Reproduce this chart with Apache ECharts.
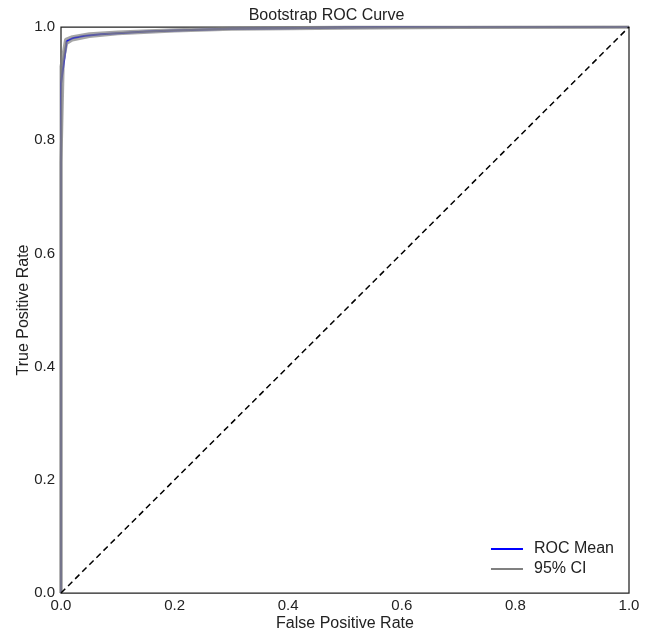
<!DOCTYPE html>
<html>
<head>
<meta charset="utf-8">
<script src="https://cdn.jsdelivr.net/npm/echarts@6/dist/echarts.min.js"></script>
<style>
  html, body { margin: 0; padding: 0; background: #fff; }
  #chart { width: 653px; height: 632px; }
</style>
</head>
<body>
<div id="chart"></div>
<script>
// mean ROC curve
var meanFpr = [0, 0, 0.01, 0.02, 0.04, 0.07, 0.1, 0.15, 0.2, 0.3, 0.4, 0.5, 0.6, 1.0];
var meanTpr = [0, 0.90, 0.975, 0.98, 0.984, 0.987, 0.989, 0.992, 0.994, 0.997, 0.998, 0.999, 1.0, 1.0];
// lower bound of 95% CI
var lowerFpr = [0, 0, 0.004, 0.01, 0.02, 0.05, 0.1, 0.2, 0.3, 0.5, 0.7, 1.0];
var lowerTpr = [0, 0.76, 0.94, 0.971, 0.977, 0.983, 0.988, 0.993, 0.996, 0.998, 0.999, 1.0];
// upper bound of 95% CI
var upperFpr = [0, 0, 0.008, 0.02, 0.05, 0.1, 0.2, 0.3, 0.5, 1.0];
var upperTpr = [0, 0.93, 0.978, 0.983, 0.988, 0.991, 0.995, 0.998, 1.0, 1.0];
// chance line
var diagX = [0, 1];
var diagY = [0, 1];

function pairs(xs, ys) {
  return xs.map(function (x, i) { return [x, ys[i]]; });
}

var chart = echarts.init(document.getElementById("chart"));
var font = "Liberation Sans, Arial, sans-serif";
var tickFmt = function (v) { return v.toFixed(1); };

chart.setOption({
  animation: false,
  title: {
    text: "Bootstrap ROC Curve",
    left: "center",
    top: 3,
    textStyle: { fontSize: 16, fontWeight: "normal", color: "#222", fontFamily: font }
  },
  grid: {
    left: 61,
    right: 24,
    top: 27,
    bottom: 39,
    outerBoundsMode: "none",
    show: true,
    borderColor: "#222",
    borderWidth: 1.25
  },
  legend: {
    orient: "vertical",
    right: 34,
    top: 536,
    icon: "rect",
    itemWidth: 32,
    itemHeight: 2,
    itemGap: 4,
    textStyle: { fontSize: 16, color: "#222", fontFamily: font, padding: [0, 0, 0, 6] },
    data: ["ROC Mean", "95% CI"]
  },
  xAxis: {
    type: "value",
    min: 0,
    max: 1,
    interval: 0.2,
    name: "False Positive Rate",
    nameLocation: "middle",
    nameGap: 23,
    nameMoveOverlap: false,
    nameTextStyle: { fontSize: 16, color: "#222", fontFamily: font },
    axisLine: { show: false },
    axisTick: { show: false },
    splitLine: { show: false },
    axisLabel: { formatter: tickFmt, fontSize: 15, color: "#222", margin: 5, fontFamily: font }
  },
  yAxis: {
    type: "value",
    min: 0,
    max: 1,
    interval: 0.2,
    name: "True Positive Rate",
    nameLocation: "middle",
    nameGap: 29,
    nameMoveOverlap: false,
    nameTextStyle: { fontSize: 16, color: "#222", fontFamily: font },
    axisLine: { show: false },
    axisTick: { show: false },
    splitLine: { show: false },
    axisLabel: { formatter: tickFmt, fontSize: 15, color: "#222", margin: 6, fontFamily: font }
  },
  series: [
    {
      name: "ROC Mean",
      type: "line",
      symbol: "none",
      color: "#0000ff",
      lineStyle: { color: "#0000ff", width: 2 },
      data: pairs(meanFpr, meanTpr),
      z: 2
    },
    {
      name: "95% CI",
      type: "line",
      symbol: "none",
      color: "#808080",
      lineStyle: { color: "#808080", width: 3, opacity: 0.7 },
      data: pairs(lowerFpr, lowerTpr),
      z: 3
    },
    {
      name: "95% CI",
      type: "line",
      symbol: "none",
      color: "#808080",
      lineStyle: { color: "#808080", width: 3, opacity: 0.7 },
      data: pairs(upperFpr, upperTpr),
      z: 3
    },
    {
      name: "chance",
      type: "line",
      symbol: "none",
      silent: true,
      lineStyle: { color: "#000", width: 1.5, type: [6, 4] },
      data: pairs(diagX, diagY),
      z: 4
    }
  ]
});
</script>
</body>
</html>
